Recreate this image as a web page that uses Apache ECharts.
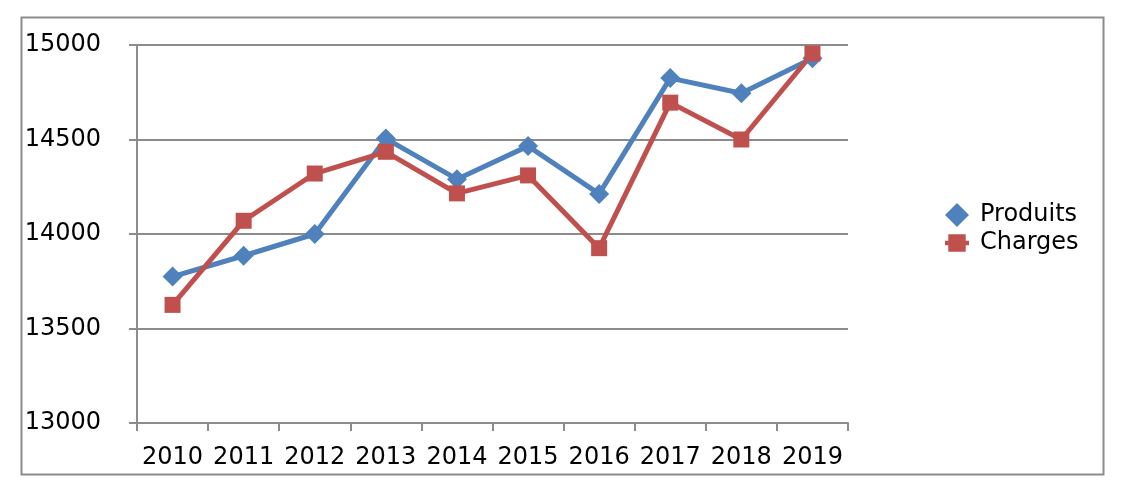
<!DOCTYPE html>
<html>
<head>
<meta charset="utf-8">
<script src="https://cdn.jsdelivr.net/npm/echarts@6/dist/echarts.min.js"></script>
<style>
html,body{margin:0;padding:0;background:#fff;}
#chart{width:1126px;height:494px;}
</style>
</head>
<body>
<div id="chart"></div>
<script>
const categories = ['2010','2011','2012','2013','2014','2015','2016','2017','2018','2019'];
const produits = [13775, 13885, 14000, 14505, 14290, 14465, 14212, 14825, 14745, 14930];
const charges = [13625, 14070, 14320, 14435, 14215, 14310, 13925, 14695, 14500, 14955];
const yTicks = { min: 13000, max: 15000, interval: 500 };

const font = 'DejaVu Sans, Verdana, sans-serif';
const gray = '#8c8c8c';
const chart = echarts.init(document.getElementById('chart'), null, {renderer: 'canvas'});
chart.setOption({
  animation: false,
  backgroundColor: '#fff',
  graphic: [{
    type: 'rect', left: 19, top: 15,
    shape: { width: 1082, height: 457 },
    style: { fill: 'none', stroke: gray, lineWidth: 2 },
    silent: true
  }],
  grid: { left: 137, right: 278, top: 45, bottom: 71 },
  legend: {
    orient: 'vertical', left: 940, top: 198,
    itemWidth: 24, itemHeight: 24, itemGap: 4,
    textStyle: { fontFamily: font, fontSize: 24, color: '#000', padding: [0, 0, 0, 6] },
    data: [
      { name: 'Produits', icon: 'diamond' },
      { name: 'Charges', icon: 'path://M0,6 L3,6 L3,0 L19,0 L19,6 L22,6 L22,10 L19,10 L19,16 L3,16 L3,10 L0,10 Z' }
    ]
  },
  xAxis: {
    type: 'category', data: categories, boundaryGap: true,
    axisLine: { lineStyle: { color: gray, width: 2 } },
    axisTick: { show: true, length: 8, lineStyle: { color: gray, width: 2 } },
    axisLabel: { margin: 23, fontFamily: font, fontSize: 24, color: '#000', interval: 0 }
  },
  yAxis: {
    type: 'value', min: yTicks.min, max: yTicks.max, interval: yTicks.interval,
    axisLine: { show: true, lineStyle: { color: gray, width: 2 } },
    axisTick: { show: true, length: 8, lineStyle: { color: gray, width: 2 } },
    splitLine: { show: true, lineStyle: { color: gray, width: 2 } },
    axisLabel: { margin: 36, fontFamily: font, fontSize: 24, color: '#000', formatter: v => String(v) }
  },
  series: [
    {
      name: 'Produits', type: 'line', data: produits,
      symbol: 'diamond', symbolSize: 20,
      lineStyle: { color: '#4f81bd', width: 5 },
      itemStyle: { color: '#4f81bd' }
    },
    {
      name: 'Charges', type: 'line', data: charges,
      symbol: 'rect', symbolSize: 16,
      lineStyle: { color: '#c0504d', width: 5 },
      itemStyle: { color: '#c0504d' }
    }
  ]
});
</script>
</body>
</html>
